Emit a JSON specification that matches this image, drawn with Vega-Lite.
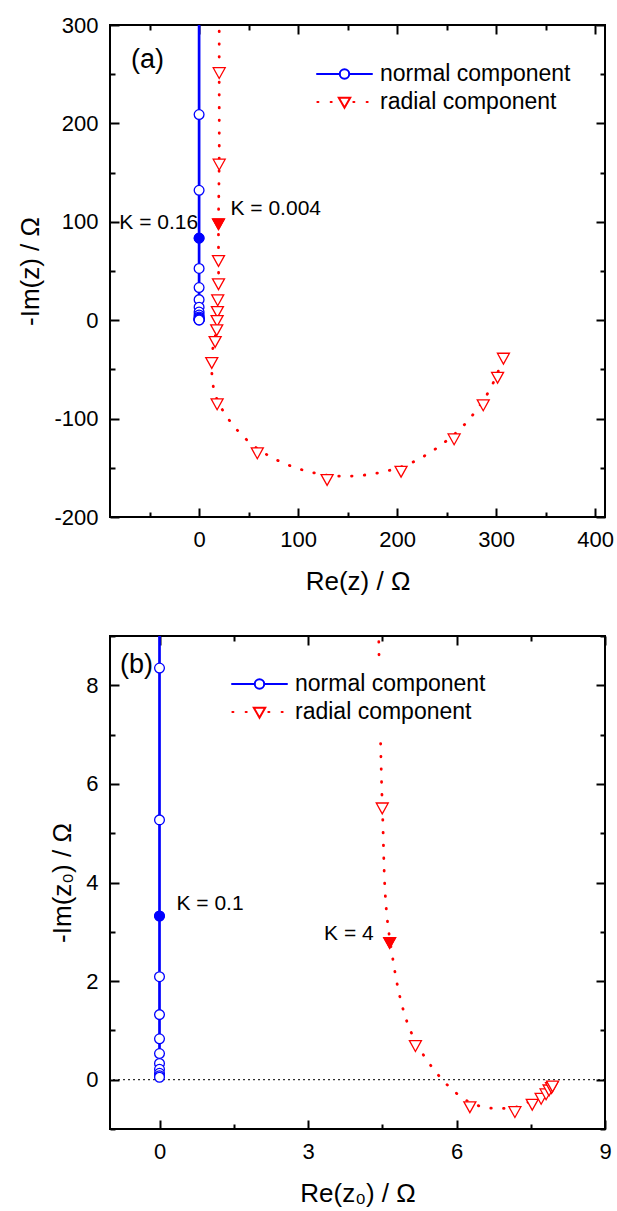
{
  "$schema": "https://vega.github.io/schema/vega-lite/v6.json",
  "padding": {"left": 16, "top": 13, "right": 0, "bottom": 0},
  "bounds": "flush",
  "spacing": 119,
  "background": "white",
  "resolve": {
    "scale": {"color": "independent", "x": "independent", "y": "independent"},
    "legend": {"color": "independent"}
  },
  "datasets": {
    "a_main": [
      {"series": "normal component", "re": 0, "im": 525},
      {"series": "normal component", "re": 0, "im": 331},
      {"series": "normal component", "re": 0, "im": 209},
      {"series": "normal component", "re": 0, "im": 132},
      {"series": "normal component", "re": 0, "im": 83.4},
      {"series": "normal component", "re": 0, "im": 52.6},
      {"series": "normal component", "re": 0, "im": 33.2},
      {"series": "normal component", "re": 0, "im": 20.9},
      {"series": "normal component", "re": 0, "im": 13.2},
      {"series": "normal component", "re": 0, "im": 8.3},
      {"series": "normal component", "re": 0, "im": 5.3},
      {"series": "normal component", "re": 0, "im": 3.3},
      {"series": "normal component", "re": 0, "im": 2.1},
      {"series": "normal component", "re": 0, "im": 1.3},
      {"series": "normal component", "re": 0, "im": 0.83},
      {"series": "normal component", "re": 0, "im": 0.53},
      {"series": "normal component", "re": 0, "im": 0.33},
      {"series": "normal component", "re": 0, "im": 0.21},
      {"series": "radial component", "re": 20.4, "im": 410},
      {"series": "radial component", "re": 20.3, "im": 256},
      {"series": "radial component", "re": 20.3, "im": 163},
      {"series": "radial component", "re": 19.6, "im": 102.3},
      {"series": "radial component", "re": 19.6, "im": 65},
      {"series": "radial component", "re": 19.6, "im": 41.4},
      {"series": "radial component", "re": 18.8, "im": 25.1},
      {"series": "radial component", "re": 18.5, "im": 13.2},
      {"series": "radial component", "re": 18.2, "im": 4.1},
      {"series": "radial component", "re": 17.8, "im": -5.3},
      {"series": "radial component", "re": 16.2, "im": -17.3},
      {"series": "radial component", "re": 12.8, "im": -38.6},
      {"series": "radial component", "re": 18.2, "im": -80.6},
      {"series": "radial component", "re": 58.8, "im": -130.4},
      {"series": "radial component", "re": 129.3, "im": -157.5},
      {"series": "radial component", "re": 204, "im": -149.1},
      {"series": "radial component", "re": 257.6, "im": -116.2},
      {"series": "radial component", "re": 287, "im": -81.6},
      {"series": "radial component", "re": 301.5, "im": -53.6},
      {"series": "radial component", "re": 307.4, "im": -34.2}
    ],
    "a_k": [
      {"series": "normal component", "re": 0, "im": 83.4, "label": "K = 0.16"},
      {"series": "radial component", "re": 19.6, "im": 102.3, "label": "K = 0.004"}
    ],
    "b_main": [
      {"series": "normal component", "re": 0, "im": 13.3},
      {"series": "normal component", "re": 0, "im": 8.35},
      {"series": "normal component", "re": 0, "im": 5.27},
      {"series": "normal component", "re": 0, "im": 3.32},
      {"series": "normal component", "re": 0, "im": 2.09},
      {"series": "normal component", "re": 0, "im": 1.32},
      {"series": "normal component", "re": 0, "im": 0.83},
      {"series": "normal component", "re": 0, "im": 0.53},
      {"series": "normal component", "re": 0, "im": 0.33},
      {"series": "normal component", "re": 0, "im": 0.21},
      {"series": "normal component", "re": 0, "im": 0.13},
      {"series": "normal component", "re": 0, "im": 0.08},
      {"series": "normal component", "re": 0, "im": 0.05},
      {"series": "radial component", "re": 4.4, "im": 11.2},
      {"series": "radial component", "re": 4.5, "im": 5.6},
      {"series": "radial component", "re": 4.65, "im": 2.87},
      {"series": "radial component", "re": 5.17, "im": 0.78},
      {"series": "radial component", "re": 6.27, "im": -0.46},
      {"series": "radial component", "re": 7.18, "im": -0.56},
      {"series": "radial component", "re": 7.53, "im": -0.41},
      {"series": "radial component", "re": 7.71, "im": -0.29},
      {"series": "radial component", "re": 7.81, "im": -0.2},
      {"series": "radial component", "re": 7.87, "im": -0.12},
      {"series": "radial component", "re": 7.92, "im": -0.07},
      {"series": "radial component", "re": 7.94, "im": -0.04}
    ],
    "b_k": [
      {"series": "normal component", "re": 0, "im": 3.32, "label": "K = 0.1"},
      {"series": "radial component", "re": 4.65, "im": 2.87, "label": "K = 4"}
    ]
  },
  "config": {
    "view": {"stroke": "black", "strokeWidth": 2},
    "font": "Liberation Sans",
    "axis": {
      "grid": false, "domain": false, "tickColor": "black", "tickWidth": 2,
      "labelFont": "Liberation Sans", "labelFontSize": 22, "labelColor": "black",
      "labelPadding": 21, "labelFlush": false, "labelOverlap": false,
      "titleFont": "Liberation Sans", "titleFontSize": 26, "titleFontWeight": "normal", "titleColor": "black"
    },
    "legend": {"symbolFillColor": "white"},
    "title": {"font": "Liberation Sans", "fontSize": 27, "fontWeight": "normal", "color": "black", "anchor": "start", "frame": "group", "baseline": "middle"}
  },
  "vconcat": [
    {
      "width": 495, "height": 492,
      "title": {"text": "(a)", "dx": 21, "offset": -60},
      "resolve": {"axis": {"x": "independent", "y": "independent"}},
      "layer": [
        {
          "data": {"name": "a_main"},
          "transform": [{"filter": "datum.series === 'normal component'"}],
          "mark": {"type": "line", "clip": true, "strokeWidth": 2.7, "strokeCap": "round"},
          "encoding": {
            "x": {"field": "re", "type": "quantitative", "scale": {"domain": [-90, 410], "nice": false, "zero": false},
              "axis": {"orient": "bottom", "title": "Re(z) / Ω", "titlePadding": 14,
                "values": [-50, 0, 50, 100, 150, 200, 250, 300, 350, 400],
                "labelExpr": "datum.value % 100 === 0 ? '' + datum.value : ''",
                "tickSize": {"condition": {"test": "datum.value % 100 === 0", "value": -9}, "value": -5}}},
            "y": {"field": "im", "type": "quantitative", "scale": {"domain": [-200, 300], "nice": false, "zero": false},
              "axis": {"orient": "left", "title": "-Im(z) / Ω", "titlePadding": 10,
                "values": [-200, -150, -100, -50, 0, 50, 100, 150, 200, 250, 300],
                "labelExpr": "datum.value % 100 === 0 ? '' + datum.value : ''",
                "tickSize": {"condition": {"test": "datum.value % 100 === 0", "value": -9}, "value": -5}}},
            "color": {"field": "series", "type": "nominal",
              "scale": {"domain": ["normal component", "radial component"], "range": ["#0000ff", "#ff0000"]},
              "legend": {"title": null, "orient": "none", "legendX": 212.5, "legendY": 27, "padding": 10, "fillColor": "white",
                "symbolSize": 484, "symbolStrokeWidth": 2, "labelFontSize": 23, "labelFont": "Liberation Sans",
                "labelColor": "black", "labelOffset": 23.5, "labelLimit": 400, "rowPadding": 4,
                "encode": {"symbols": {"update": {
                  "shape": {"signal": "datum.value === 'normal component' ? 'M-2.5,0H-0.43M0.43,0H2.5M0.43,0A0.43,0.43,0,1,1,-0.43,0A0.43,0.43,0,1,1,0.43,0' : 'M-2.47,0H-2.37M-1.26,0H-1.16M0.8,0H0.9M2.01,0H2.11M-0.52,-0.39H0.52L0,0.52Z'"},
                  "fill": {"value": "white"}, "opacity": {"value": 1}, "strokeCap": {"value": "round"}}}}}},
            "order": {"value": null}
          }
        },
        {
          "data": {"name": "a_main"},
          "transform": [{"filter": "datum.series === 'radial component'"}],
          "mark": {"type": "line", "clip": true, "strokeWidth": 2.8, "strokeCap": "round", "interpolate": "catmull-rom", "stroke": "#ff0000", "strokeDash": [0.5, 12.2]},
          "encoding": {
            "x": {"field": "re", "type": "quantitative", "axis": null},
            "y": {"field": "im", "type": "quantitative", "axis": null},
            "order": {"value": null}
          }
        },
        {
          "data": {"name": "a_main"},
          "transform": [{"filter": "datum.series === 'normal component'"}],
          "mark": {"type": "point", "clip": true, "shape": "circle", "size": 95, "filled": true, "fill": "white", "stroke": "#0000ff", "opacity": 1, "strokeWidth": 1.3},
          "encoding": {
            "x": {"field": "re", "type": "quantitative",
              "axis": {"orient": "top", "title": null, "labels": false,
                "values": [-50, 0, 50, 100, 150, 200, 250, 300, 350, 400],
                "tickSize": {"condition": {"test": "datum.value % 100 === 0", "value": -9}, "value": -5}}},
            "y": {"field": "im", "type": "quantitative",
              "axis": {"orient": "right", "title": null, "labels": false,
                "values": [-200, -150, -100, -50, 0, 50, 100, 150, 200, 250, 300],
                "tickSize": {"condition": {"test": "datum.value % 100 === 0", "value": -9}, "value": -5}}}
          }
        },
        {
          "data": {"name": "a_main"},
          "transform": [{"filter": "datum.series === 'radial component'"}],
          "mark": {"type": "point", "clip": true, "shape": "M-1,-0.1L1,-0.1L0,1.7Z", "size": 144, "filled": true, "fill": "white", "stroke": "#ff0000", "opacity": 1, "strokeWidth": 1.3},
          "encoding": {
            "x": {"field": "re", "type": "quantitative", "axis": null},
            "y": {"field": "im", "type": "quantitative", "axis": null}
          }
        },
        {
          "data": {"name": "a_k"},
          "transform": [{"filter": "datum.series === 'normal component'"}],
          "mark": {"type": "point", "shape": "circle", "size": 95, "filled": true, "fill": "#0000ff", "stroke": "#0000ff", "opacity": 1, "strokeWidth": 1},
          "encoding": {
            "x": {"field": "re", "type": "quantitative", "axis": null},
            "y": {"field": "im", "type": "quantitative", "axis": null}
          }
        },
        {
          "data": {"name": "a_k"},
          "transform": [{"filter": "datum.series === 'radial component'"}],
          "mark": {"type": "point", "shape": "M-1,-0.1L1,-0.1L0,1.7Z", "size": 144, "filled": true, "fill": "#ff0000", "stroke": "#ff0000", "opacity": 1, "strokeWidth": 1},
          "encoding": {
            "x": {"field": "re", "type": "quantitative", "axis": null},
            "y": {"field": "im", "type": "quantitative", "axis": null}
          }
        },
        {
          "data": {"name": "a_k"},
          "transform": [{"filter": "datum.series === 'normal component'"}],
          "mark": {"type": "text", "align": "right", "baseline": "middle", "dx": -1, "dy": -15, "fontSize": 21, "font": "Liberation Sans", "color": "black"},
          "encoding": {
            "x": {"field": "re", "type": "quantitative", "axis": null},
            "y": {"field": "im", "type": "quantitative", "axis": null},
            "text": {"field": "label"}
          }
        },
        {
          "data": {"name": "a_k"},
          "transform": [{"filter": "datum.series === 'radial component'"}],
          "mark": {"type": "text", "align": "left", "baseline": "middle", "dx": 12, "dy": -11, "fontSize": 21, "font": "Liberation Sans", "color": "black"},
          "encoding": {
            "x": {"field": "re", "type": "quantitative", "axis": null},
            "y": {"field": "im", "type": "quantitative", "axis": null},
            "text": {"field": "label"}
          }
        }
      ]
    },
    {
      "width": 495, "height": 493,
      "title": {"text": "(b)", "dx": 10, "offset": -54},
      "resolve": {"axis": {"x": "independent", "y": "independent"}},
      "layer": [
        {
          "data": {"values": [{}]},
          "mark": {"type": "rule", "strokeDash": [2, 3], "color": "black", "strokeWidth": 1},
          "encoding": {"y": {"datum": 0, "type": "quantitative", "axis": null}}
        },
        {
          "data": {"name": "b_main"},
          "transform": [{"filter": "datum.series === 'normal component'"}],
          "mark": {"type": "line", "clip": true, "strokeWidth": 2.7, "strokeCap": "round"},
          "encoding": {
            "x": {"field": "re", "type": "quantitative", "scale": {"domain": [-1, 9], "nice": false, "zero": false},
              "axis": {"orient": "bottom", "title": "Re(z₀) / Ω", "titlePadding": 14,
                "values": [0, 1.5, 3, 4.5, 6, 7.5, 9],
                "labelExpr": "datum.value % 3 === 0 ? '' + datum.value : ''",
                "tickSize": {"condition": {"test": "datum.value % 3 === 0", "value": -9}, "value": -5}}},
            "y": {"field": "im", "type": "quantitative", "scale": {"domain": [-1, 9], "nice": false, "zero": false},
              "axis": {"orient": "left", "title": "-Im(z₀) / Ω", "titlePadding": 10,
                "values": [-1, 0, 1, 2, 3, 4, 5, 6, 7, 8, 9],
                "labelExpr": "datum.value % 2 === 0 ? '' + datum.value : ''",
                "tickSize": {"condition": {"test": "datum.value % 2 === 0", "value": -9}, "value": -5}}},
            "color": {"field": "series", "type": "nominal",
              "scale": {"domain": ["normal component", "radial component"], "range": ["#0000ff", "#ff0000"]},
              "legend": {"title": null, "orient": "none", "legendX": 127.5, "legendY": 26, "padding": 10, "fillColor": "white",
                "symbolSize": 484, "symbolStrokeWidth": 2, "labelFontSize": 23, "labelFont": "Liberation Sans",
                "labelColor": "black", "labelOffset": 23.5, "labelLimit": 400, "rowPadding": 4,
                "encode": {"symbols": {"update": {
                  "shape": {"signal": "datum.value === 'normal component' ? 'M-2.5,0H-0.43M0.43,0H2.5M0.43,0A0.43,0.43,0,1,1,-0.43,0A0.43,0.43,0,1,1,0.43,0' : 'M-2.47,0H-2.37M-1.26,0H-1.16M0.8,0H0.9M2.01,0H2.11M-0.52,-0.39H0.52L0,0.52Z'"},
                  "fill": {"value": "white"}, "opacity": {"value": 1}, "strokeCap": {"value": "round"}}}}}},
            "order": {"value": null}
          }
        },
        {
          "data": {"name": "b_main"},
          "transform": [{"filter": "datum.series === 'radial component'"}],
          "mark": {"type": "line", "clip": true, "strokeWidth": 2.8, "strokeCap": "round", "interpolate": "catmull-rom", "stroke": "#ff0000", "strokeDash": [0.5, 12.2]},
          "encoding": {
            "x": {"field": "re", "type": "quantitative", "axis": null},
            "y": {"field": "im", "type": "quantitative", "axis": null},
            "order": {"value": null}
          }
        },
        {
          "data": {"name": "b_main"},
          "transform": [{"filter": "datum.series === 'normal component'"}],
          "mark": {"type": "point", "clip": true, "shape": "circle", "size": 95, "filled": true, "fill": "white", "stroke": "#0000ff", "opacity": 1, "strokeWidth": 1.3},
          "encoding": {
            "x": {"field": "re", "type": "quantitative",
              "axis": {"orient": "top", "title": null, "labels": false,
                "values": [0, 1.5, 3, 4.5, 6, 7.5, 9],
                "tickSize": {"condition": {"test": "datum.value % 3 === 0", "value": -9}, "value": -5}}},
            "y": {"field": "im", "type": "quantitative",
              "axis": {"orient": "right", "title": null, "labels": false,
                "values": [-1, 0, 1, 2, 3, 4, 5, 6, 7, 8, 9],
                "tickSize": {"condition": {"test": "datum.value % 2 === 0", "value": -9}, "value": -5}}}
          }
        },
        {
          "data": {"name": "b_main"},
          "transform": [{"filter": "datum.series === 'radial component'"}],
          "mark": {"type": "point", "clip": true, "shape": "M-1,-0.1L1,-0.1L0,1.7Z", "size": 144, "filled": true, "fill": "white", "stroke": "#ff0000", "opacity": 1, "strokeWidth": 1.3},
          "encoding": {
            "x": {"field": "re", "type": "quantitative", "axis": null},
            "y": {"field": "im", "type": "quantitative", "axis": null}
          }
        },
        {
          "data": {"name": "b_k"},
          "transform": [{"filter": "datum.series === 'normal component'"}],
          "mark": {"type": "point", "shape": "circle", "size": 95, "filled": true, "fill": "#0000ff", "stroke": "#0000ff", "opacity": 1, "strokeWidth": 1},
          "encoding": {
            "x": {"field": "re", "type": "quantitative", "axis": null},
            "y": {"field": "im", "type": "quantitative", "axis": null}
          }
        },
        {
          "data": {"name": "b_k"},
          "transform": [{"filter": "datum.series === 'radial component'"}],
          "mark": {"type": "point", "shape": "M-1,-0.1L1,-0.1L0,1.7Z", "size": 144, "filled": true, "fill": "#ff0000", "stroke": "#ff0000", "opacity": 1, "strokeWidth": 1},
          "encoding": {
            "x": {"field": "re", "type": "quantitative", "axis": null},
            "y": {"field": "im", "type": "quantitative", "axis": null}
          }
        },
        {
          "data": {"name": "b_k"},
          "transform": [{"filter": "datum.series === 'normal component'"}],
          "mark": {"type": "text", "align": "left", "baseline": "middle", "dx": 17, "dy": -12, "fontSize": 21, "font": "Liberation Sans", "color": "black"},
          "encoding": {
            "x": {"field": "re", "type": "quantitative", "axis": null},
            "y": {"field": "im", "type": "quantitative", "axis": null},
            "text": {"field": "label"}
          }
        },
        {
          "data": {"name": "b_k"},
          "transform": [{"filter": "datum.series === 'radial component'"}],
          "mark": {"type": "text", "align": "right", "baseline": "middle", "dx": -16, "dy": -4, "fontSize": 21, "font": "Liberation Sans", "color": "black"},
          "encoding": {
            "x": {"field": "re", "type": "quantitative", "axis": null},
            "y": {"field": "im", "type": "quantitative", "axis": null},
            "text": {"field": "label"}
          }
        }
      ]
    }
  ]
}
